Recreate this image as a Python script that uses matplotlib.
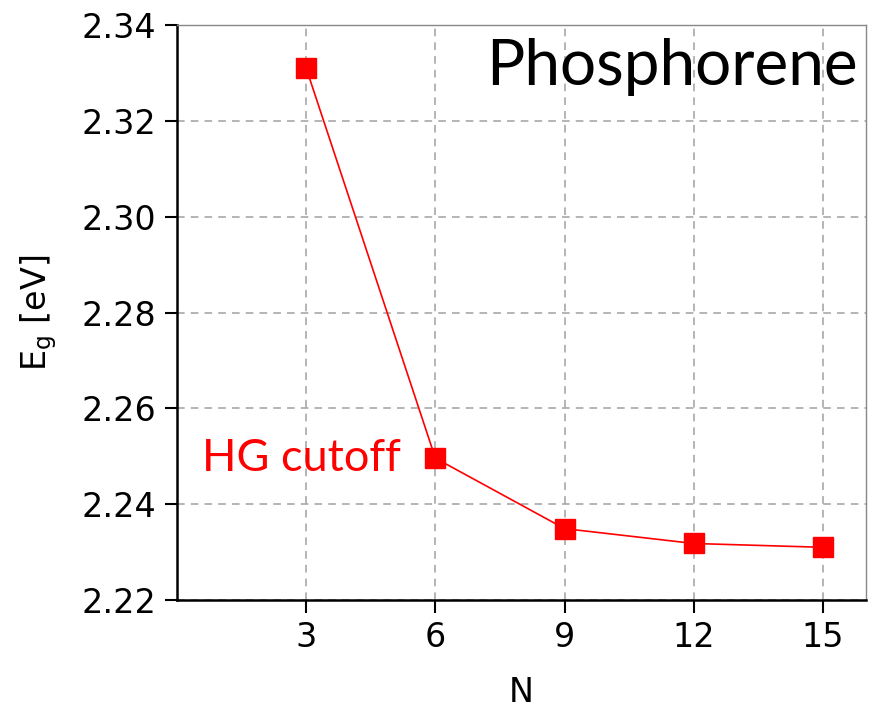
import matplotlib
matplotlib.use("Agg")
import matplotlib.pyplot as plt

N = [3, 6, 9, 12, 15]
Eg = [2.3310, 2.2496, 2.2349, 2.2318, 2.2310]
xticks = [3, 6, 9, 12, 15]
yticks = [2.22, 2.24, 2.26, 2.28, 2.30, 2.32, 2.34]

fig = plt.figure(figsize=(8.77, 7.08), dpi=100)
ax = fig.add_axes([0.2018, 0.1525, 0.7857, 0.8122])

ax.plot(N, Eg, color='#ff0000', lw=1.2, marker='s', markersize=15,
        markerfacecolor='#ff0000', markeredgecolor='#ff0000', zorder=3)

ax.set_xlim(0, 16)
ax.set_ylim(2.22, 2.34)
ax.set_xticks(xticks)
ax.set_yticks(yticks)
ax.set_yticklabels([f"{v:.2f}" for v in yticks])
ax.tick_params(direction='out', length=9, width=1.5, labelsize=24, pad=6)
ax.grid(True, linestyle=(0, (5, 4)), color='#a0a0a0', lw=1.1)
ax.set_axisbelow(True)

for s in ['left', 'bottom']:
    ax.spines[s].set_linewidth(1.8)
    ax.spines[s].set_color('black')
for s in ['top', 'right']:
    ax.spines[s].set_linewidth(1.0)
    ax.spines[s].set_color('#888888')

ax.set_xlabel('N', fontsize=24, labelpad=16)
ax.set_ylabel(r'E$_\mathregular{g}$ [eV]', fontsize=24, labelpad=16)

ax.text(0.988, 0.978, 'Phosphorene', transform=ax.transAxes, ha='right', va='top',
        fontsize=46, family='Lato')
ax.text(0.037, 0.21, 'HG cutoff', transform=ax.transAxes, ha='left', va='bottom',
        fontsize=32.5, family='Lato', color='#ff0000')

fig.savefig('out.png', dpi=100)
